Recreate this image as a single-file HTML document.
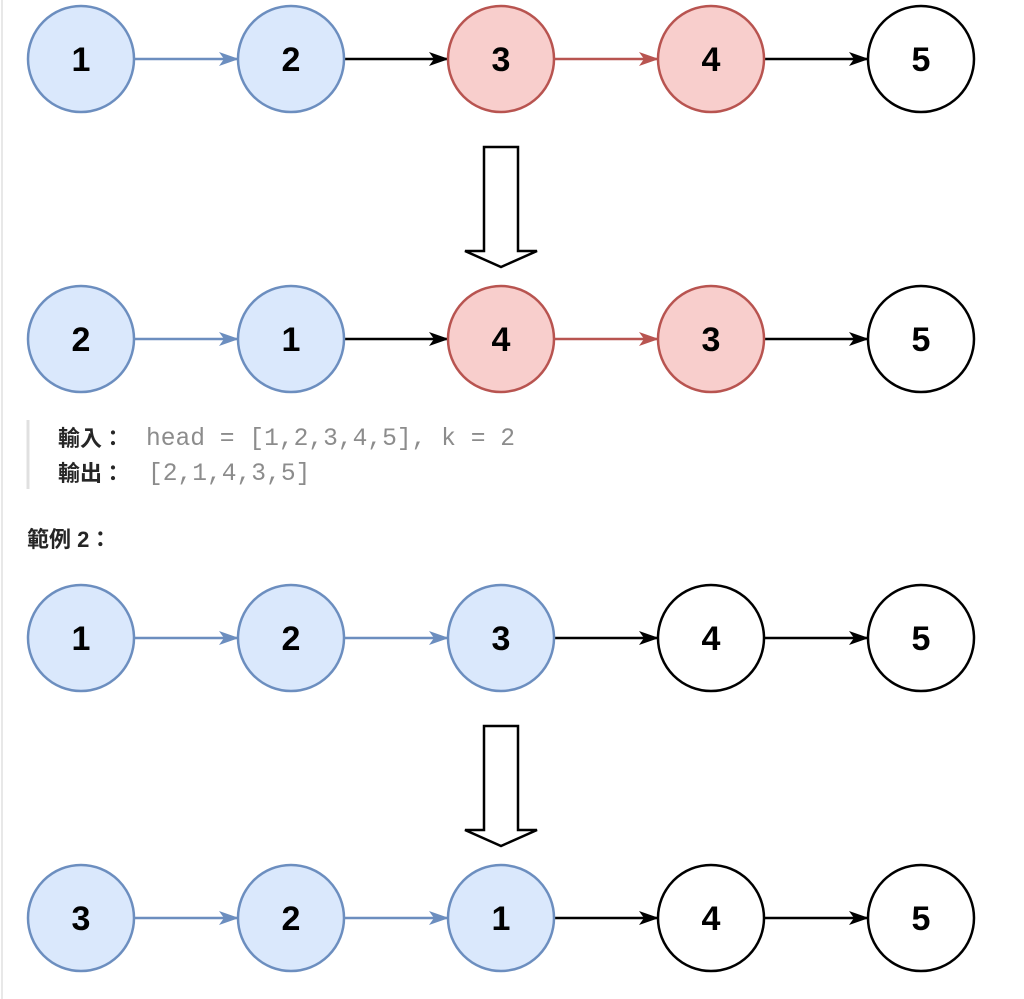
<!DOCTYPE html>
<html><head><meta charset="utf-8"><style>
body{margin:0;background:#fff;width:1024px;height:999px;overflow:hidden;position:relative}
svg{position:absolute;left:0;top:0}
.t{position:absolute;font-family:"Liberation Sans","Noto Sans CJK TC",sans-serif;font-size:22px;color:#262626;font-weight:bold;line-height:24px;white-space:pre}
.m{position:absolute;font-family:"Liberation Mono","DejaVu Sans Mono",monospace;color:#8c8c8c;font-size:24.6px;line-height:24px;white-space:pre}
</style></head><body>
<svg width="1024" height="999" font-family="Liberation Sans, Arial, sans-serif">
<defs>
<marker id="ab" markerWidth="20" markerHeight="14" refX="19" refY="7" orient="auto" markerUnits="userSpaceOnUse"><path d="M0,0 L20,7 L0,14 L5,7z" fill="#6c8ebf"/></marker>
<marker id="ak" markerWidth="20" markerHeight="14" refX="19" refY="7" orient="auto" markerUnits="userSpaceOnUse"><path d="M0,0 L20,7 L0,14 L5,7z" fill="#000"/></marker>
<marker id="ar" markerWidth="20" markerHeight="14" refX="19" refY="7" orient="auto" markerUnits="userSpaceOnUse"><path d="M0,0 L20,7 L0,14 L5,7z" fill="#b85450"/></marker>
</defs>
<line x1="2" y1="0" x2="2" y2="999" stroke="#e8e8e8" stroke-width="2"/>
<line x1="28" y1="420" x2="28" y2="489" stroke="#e0e0e0" stroke-width="3"/>
<g stroke-width="2.5">
<g transform="translate(0,59)">
<line x1="135" y1="0" x2="238" y2="0" stroke="#6c8ebf" marker-end="url(#ab)"/>
<line x1="345" y1="0" x2="448" y2="0" stroke="#000" marker-end="url(#ak)"/>
<line x1="555" y1="0" x2="658" y2="0" stroke="#b85450" marker-end="url(#ar)"/>
<line x1="765" y1="0" x2="868" y2="0" stroke="#000" marker-end="url(#ak)"/>
<circle cx="81" cy="0" r="53" fill="#dae8fc" stroke="#6c8ebf"/>
<circle cx="291" cy="0" r="53" fill="#dae8fc" stroke="#6c8ebf"/>
<circle cx="501" cy="0" r="53" fill="#f8cecc" stroke="#b85450"/>
<circle cx="711" cy="0" r="53" fill="#f8cecc" stroke="#b85450"/>
<circle cx="921" cy="0" r="53" fill="#fff" stroke="#000"/>
<g font-size="34" font-weight="bold" text-anchor="middle" stroke="none" fill="#000"><text x="81" y="12">1</text><text x="291" y="12">2</text><text x="501" y="12">3</text><text x="711" y="12">4</text><text x="921" y="12">5</text></g>
</g>
<g transform="translate(0,339)">
<line x1="135" y1="0" x2="238" y2="0" stroke="#6c8ebf" marker-end="url(#ab)"/>
<line x1="345" y1="0" x2="448" y2="0" stroke="#000" marker-end="url(#ak)"/>
<line x1="555" y1="0" x2="658" y2="0" stroke="#b85450" marker-end="url(#ar)"/>
<line x1="765" y1="0" x2="868" y2="0" stroke="#000" marker-end="url(#ak)"/>
<circle cx="81" cy="0" r="53" fill="#dae8fc" stroke="#6c8ebf"/>
<circle cx="291" cy="0" r="53" fill="#dae8fc" stroke="#6c8ebf"/>
<circle cx="501" cy="0" r="53" fill="#f8cecc" stroke="#b85450"/>
<circle cx="711" cy="0" r="53" fill="#f8cecc" stroke="#b85450"/>
<circle cx="921" cy="0" r="53" fill="#fff" stroke="#000"/>
<g font-size="34" font-weight="bold" text-anchor="middle" stroke="none" fill="#000"><text x="81" y="12">2</text><text x="291" y="12">1</text><text x="501" y="12">4</text><text x="711" y="12">3</text><text x="921" y="12">5</text></g>
</g>
<g transform="translate(0,638)">
<line x1="135" y1="0" x2="238" y2="0" stroke="#6c8ebf" marker-end="url(#ab)"/>
<line x1="345" y1="0" x2="448" y2="0" stroke="#6c8ebf" marker-end="url(#ab)"/>
<line x1="555" y1="0" x2="658" y2="0" stroke="#000" marker-end="url(#ak)"/>
<line x1="765" y1="0" x2="868" y2="0" stroke="#000" marker-end="url(#ak)"/>
<circle cx="81" cy="0" r="53" fill="#dae8fc" stroke="#6c8ebf"/>
<circle cx="291" cy="0" r="53" fill="#dae8fc" stroke="#6c8ebf"/>
<circle cx="501" cy="0" r="53" fill="#dae8fc" stroke="#6c8ebf"/>
<circle cx="711" cy="0" r="53" fill="#fff" stroke="#000"/>
<circle cx="921" cy="0" r="53" fill="#fff" stroke="#000"/>
<g font-size="34" font-weight="bold" text-anchor="middle" stroke="none" fill="#000"><text x="81" y="12">1</text><text x="291" y="12">2</text><text x="501" y="12">3</text><text x="711" y="12">4</text><text x="921" y="12">5</text></g>
</g>
<g transform="translate(0,918)">
<line x1="135" y1="0" x2="238" y2="0" stroke="#6c8ebf" marker-end="url(#ab)"/>
<line x1="345" y1="0" x2="448" y2="0" stroke="#6c8ebf" marker-end="url(#ab)"/>
<line x1="555" y1="0" x2="658" y2="0" stroke="#000" marker-end="url(#ak)"/>
<line x1="765" y1="0" x2="868" y2="0" stroke="#000" marker-end="url(#ak)"/>
<circle cx="81" cy="0" r="53" fill="#dae8fc" stroke="#6c8ebf"/>
<circle cx="291" cy="0" r="53" fill="#dae8fc" stroke="#6c8ebf"/>
<circle cx="501" cy="0" r="53" fill="#dae8fc" stroke="#6c8ebf"/>
<circle cx="711" cy="0" r="53" fill="#fff" stroke="#000"/>
<circle cx="921" cy="0" r="53" fill="#fff" stroke="#000"/>
<g font-size="34" font-weight="bold" text-anchor="middle" stroke="none" fill="#000"><text x="81" y="12">3</text><text x="291" y="12">2</text><text x="501" y="12">1</text><text x="711" y="12">4</text><text x="921" y="12">5</text></g>
</g>
</g>
<path d="M484,147 L518,147 L518,251 L537,251 L501,267 L465,251 L484,251 Z" fill="#fff" stroke="#000" stroke-width="2.5"/>
<path d="M484,726 L518,726 L518,830 L537,830 L501,846 L465,830 L484,830 Z" fill="#fff" stroke="#000" stroke-width="2.5"/>
</svg>
<div class="t" style="left:58px;top:427px">輸入：</div>
<div class="m" style="left:146px;top:428px">head = [1,2,3,4,5], k = 2</div>
<div class="t" style="left:58px;top:462px">輸出：</div>
<div class="m" style="left:148px;top:463px">[2,1,4,3,5]</div>
<div class="t" style="left:27px;top:528px">範例 2：</div>
</body></html>
